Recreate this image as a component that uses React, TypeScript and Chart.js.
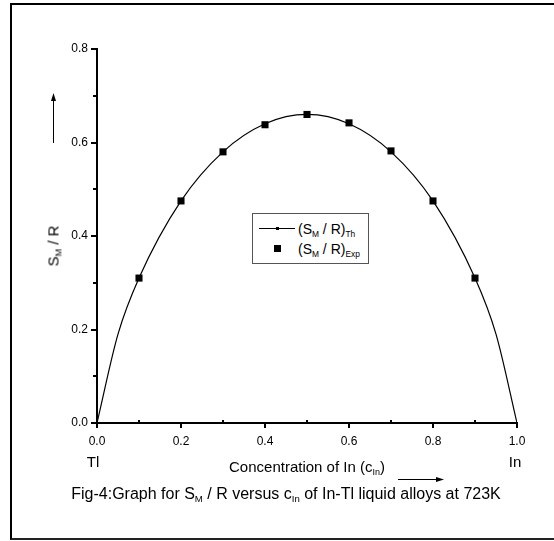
import React, { useEffect, useRef } from "react";
import { Chart, registerables } from "chart.js";

Chart.register(...registerables);

// Concentration of In (c_In)
const thX = [0, 0.05, 0.1, 0.2, 0.3, 0.4, 0.5, 0.6, 0.7, 0.8, 0.9, 0.95, 1.0];
const thY = [0, 0.19, 0.31, 0.475, 0.58, 0.64, 0.66, 0.64, 0.58, 0.475, 0.31, 0.19, 0];
const expX = [0.1, 0.2, 0.3, 0.4, 0.5, 0.6, 0.7, 0.8, 0.9];
const expY = [0.31, 0.475, 0.58, 0.638, 0.66, 0.642, 0.582, 0.475, 0.31];
const xMajorTicks = [0, 0.2, 0.4, 0.6, 0.8, 1.0];
const yMajorTicks = [0, 0.2, 0.4, 0.6, 0.8];
const xMinorTicks = [0.1, 0.3, 0.5, 0.7, 0.9];
const yMinorTicks = [0.1, 0.3, 0.5, 0.7];

const FONT = "'Liberation Sans', Arial, sans-serif";

const axesPlugin = {
  id: "axesTicks",
  afterDraw(chart: any) {
    const ctx = chart.ctx;
    const xs = chart.scales.x;
    const ys = chart.scales.y;
    const bx = Math.round(xs.left);
    const by = Math.round(ys.bottom);
    ctx.save();
    ctx.globalAlpha = 1;
    ctx.strokeStyle = "#000000";
    ctx.lineWidth = 2;
    ctx.lineCap = "square";
    ctx.setLineDash([]);
    ctx.beginPath();
    ctx.moveTo(bx, Math.round(ys.top));
    ctx.lineTo(bx, by);
    ctx.lineTo(Math.round(xs.right), by);
    ctx.stroke();
    ctx.lineCap = "butt";
    ctx.lineWidth = 2;
    ctx.beginPath();
    xMajorTicks.forEach((v) => {
      const px = Math.round(xs.getPixelForValue(v));
      ctx.moveTo(px, by);
      ctx.lineTo(px, by + 5);
    });
    yMajorTicks.forEach((v) => {
      const py = Math.round(ys.getPixelForValue(v));
      ctx.moveTo(bx, py);
      ctx.lineTo(bx - 6, py);
    });
    xMinorTicks.forEach((v) => {
      const px = Math.round(xs.getPixelForValue(v));
      ctx.moveTo(px, by);
      ctx.lineTo(px, by - 3);
    });
    yMinorTicks.forEach((v) => {
      const py = Math.round(ys.getPixelForValue(v));
      ctx.moveTo(bx, py);
      ctx.lineTo(bx - 4, py);
    });
    ctx.stroke();
    ctx.restore();
  },
};

export default function App() {
  const ref = useRef<HTMLCanvasElement>(null);
  useEffect(() => {
    if (!ref.current) return;
    const chart = new Chart(ref.current, {
      type: "scatter",
      data: {
        datasets: [
          {
            label: "Th",
            type: "line",
            data: thX.map((x, i) => ({ x, y: thY[i] })),
            borderColor: "#000",
            borderWidth: 1.2,
            pointRadius: 0,
            cubicInterpolationMode: "monotone",
            fill: false,
          } as any,
          {
            label: "Exp",
            data: expX.map((x, i) => ({ x, y: expY[i] })),
            pointStyle: "rect",
            pointRadius: 5,
            backgroundColor: "#000",
            borderColor: "#000",
            borderWidth: 0,
          },
        ],
      },
      options: {
        responsive: false,
        animation: false,
        layout: { padding: { left: 57, top: 49, right: 37, bottom: 88 } },
        plugins: { legend: { display: false }, tooltip: { enabled: false } },
        scales: {
          x: {
            type: "linear",
            min: 0,
            max: 1,
            afterFit: (s: any) => {
              s.height = 30;
            },
            border: { display: false },
            grid: { drawOnChartArea: false, drawTicks: true, tickLength: 5, color: "rgba(0,0,0,0)" },
            ticks: {
              stepSize: 0.2,
              color: "#000",
              padding: 6,
              font: { family: FONT, size: 12 },
              callback: (v: any) => Number(v).toFixed(1),
            },
          },
          y: {
            type: "linear",
            min: 0,
            max: 0.8,
            afterFit: (s: any) => {
              s.width = 40;
            },
            border: { display: false },
            grid: { drawOnChartArea: false, drawTicks: true, tickLength: 5, color: "rgba(0,0,0,0)" },
            ticks: {
              stepSize: 0.2,
              color: "#000",
              padding: 4,
              font: { family: FONT, size: 12 },
              callback: (v: any) => Number(v).toFixed(1),
            },
          },
        },
      },
      plugins: [axesPlugin],
    });
    return () => chart.destroy();
  }, []);

  const abs = (s: React.CSSProperties): React.CSSProperties => ({
    position: "absolute",
    fontFamily: FONT,
    color: "#000",
    whiteSpace: "nowrap",
    lineHeight: 1,
    ...s,
  });
  const sub: React.CSSProperties = { fontSize: "0.6em", verticalAlign: "-0.35em", lineHeight: 0 };

  return (
    <div
      style={{
        position: "absolute",
        left: 0,
        top: 0,
        width: 554,
        height: 541,
        overflow: "hidden",
        background: "#fff",
      }}
    >
      <div
        style={{
          position: "absolute",
          left: 10,
          top: 3,
          width: 600,
          height: 533,
          borderTop: "2px solid #000",
          borderLeft: "2px solid #000",
          borderBottom: "2px solid #222",
        }}
      />
      <canvas ref={ref} width={554} height={541} style={{ position: "absolute", left: 0, top: 0 }} />
      {/* legend */}
      <div
        style={{
          position: "absolute",
          left: 252,
          top: 213,
          width: 115,
          height: 49,
          border: "1px solid #555",
          background: "#fff",
        }}
      >
        <div style={{ position: "absolute", left: 6, top: 14, width: 36, borderTop: "1px solid #000" }} />
        <div style={{ position: "absolute", left: 23, top: 13, width: 3, height: 3, background: "#000" }} />
        <div style={abs({ left: 45, top: 8, fontSize: 14 })}>
          (S<span style={sub}>M</span> / R)<span style={sub}>Th</span>
        </div>
        <div style={{ position: "absolute", left: 21, top: 31, width: 7, height: 7, background: "#000" }} />
        <div style={abs({ left: 45, top: 28, fontSize: 14 })}>
          (S<span style={sub}>M</span> / R)<span style={sub}>Exp</span>
        </div>
      </div>
      {/* y title */}
      <div style={abs({ left: 53, top: 246, fontSize: 15, transform: "translate(-50%,-50%) rotate(-90deg)" })}>
        S<span style={sub}>M</span> / R
      </div>
      {/* x labels */}
      <div style={abs({ left: 93, top: 461, fontSize: 15, transform: "translate(-50%,-50%)" })}>Tl</div>
      <div style={abs({ left: 515, top: 461, fontSize: 15, transform: "translate(-50%,-50%)" })}>In</div>
      <div style={abs({ left: 307, top: 466, fontSize: 15, transform: "translate(-50%,-50%)" })}>
        Concentration of In (c<span style={sub}>In</span>)
      </div>
      <div style={abs({ left: 286, top: 494, fontSize: 16, transform: "translate(-50%,-50%)" })}>
        Fig-4:Graph for S<span style={sub}>M</span> / R versus c<span style={sub}>In</span> of In-Tl liquid alloys at 723K
      </div>
      <svg width={554} height={541} style={{ position: "absolute", left: 0, top: 0, pointerEvents: "none" }}>
        <line x1={398} y1={479.5} x2={438} y2={479.5} stroke="#000" strokeWidth={1} />
        <polygon points="444,479.5 436,477 436,482" fill="#000" />
        <line x1={53.5} y1={143} x2={53.5} y2={99} stroke="#000" strokeWidth={1} />
        <polygon points="53.5,93 51,101 56,101" fill="#000" />
      </svg>
    </div>
  );
}
